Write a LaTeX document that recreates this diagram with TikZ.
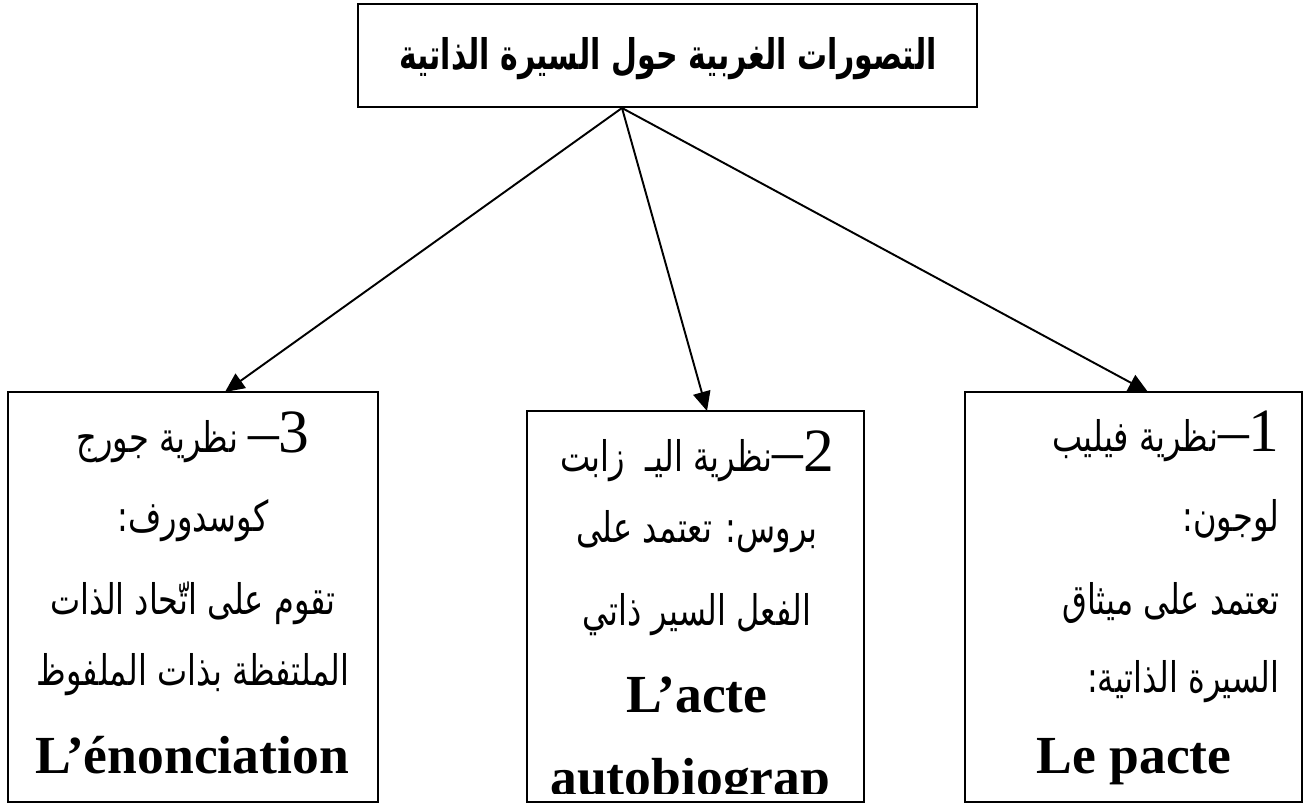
\documentclass[tikz,border=0pt]{standalone}
\usepackage{fontspec}
\setmainfont{Liberation Serif}
\newfontfamily\arabicfont[Script=Arabic, FakeStretch=0.76]{DejaVu Sans}
\newfontfamily\arabictitle[Script=Arabic, FakeStretch=0.71]{DejaVu Sans}
\newfontfamily\numfont{Liberation Serif}
\TeXXeTstate=1
\usetikzlibrary{arrows.meta}
\begin{document}
\begin{tikzpicture}[x=0.02cm,y=-0.02cm,
  box/.style={draw, line width=1.1pt, inner sep=0pt},
  arr/.style={line width=1.1pt, -{Triangle[length=11pt,width=10pt]}},
  ar/.style={font=\arabicfont\fontsize{24}{28}\selectfont, inner sep=0pt},
  fr/.style={font=\bfseries\fontsize{30.5}{36}\selectfont, inner sep=0pt}
]
\useasboundingbox (0,0) rectangle (1306,807);
% boxes
\node[box, minimum width=12.38cm, minimum height=2.06cm] (top) at (667.5,55.5) {};
\node[box, minimum width=7.4cm, minimum height=8.2cm] (b3) at (193,597) {};
\node[box, minimum width=6.74cm, minimum height=7.82cm] (b2) at (695.5,606.5) {};
\node[box, minimum width=6.74cm, minimum height=8.2cm] (b1) at (1133.5,597) {};
% title
\node[anchor=base, inner sep=0pt, font=\arabictitle\bfseries\fontsize{24}{28}\selectfont] (title) at (668,70)
  {\beginR التصورات الغربية حول السيرة الذاتية\endR};
% connectors
\coordinate (o) at (622,108);
\coordinate (t3) at (225,392);
\coordinate (t2) at (707,411);
\coordinate (t1) at (1148,392);
\draw[arr] (o) -- (t3);
\draw[arr] (o) -- (t2);
\draw[arr] (o) -- (t1);
% left box (3)
\node[ar, anchor=base] (l1) at (193,453) {\beginR{\numfont\fontsize{35}{40}\selectfont 3\kern0pt–} نظرية جورج\endR};
\node[ar, anchor=base] (l2) at (193,532) {\beginR كوسدورف:\endR};
\node[ar, anchor=base] (l3) at (193,615) {\beginR تقوم على اتّحاد الذات\endR};
\node[ar, anchor=base] (l4) at (193,685) {\beginR الملتفظة بذات الملفوظ\endR};
\node[fr, anchor=base] (l5) at (192,773) {L’énonciation};
% middle box (2)
\node[ar, anchor=base] (m1) at (697,472) {\beginR{\numfont\fontsize{35}{40}\selectfont 2\kern0pt–}نظرية اليـ\ \ زابت\endR};
\node[ar, anchor=base] (m2) at (697,543) {\beginR بروس: تعتمد على\endR};
\node[ar, anchor=base] (m3) at (697,625) {\beginR الفعل السير ذاتي\endR};
\node[fr, anchor=base] (m4) at (697,712) {L’acte};
\begin{scope}
\clip (527,411) rectangle (864,793);
\node[fr, anchor=base west] (m5) at (550,795) {autobiograp};
\end{scope}
% right box (1)
\node[ar, anchor=base east] (r1) at (1280,452) {\beginR{\numfont\fontsize{35}{40}\selectfont 1\kern0pt–}نظرية فيليب\endR};
\node[ar, anchor=base east] (r2) at (1280,532) {\beginR لوجون:\endR};
\node[ar, anchor=base east] (r3) at (1280,615) {\beginR تعتمد على ميثاق\endR};
\node[ar, anchor=base east] (r4) at (1280,692) {\beginR السيرة الذاتية:\endR};
\node[fr, anchor=base] (r5) at (1134,773) {Le pacte};
\end{tikzpicture}
\end{document}
